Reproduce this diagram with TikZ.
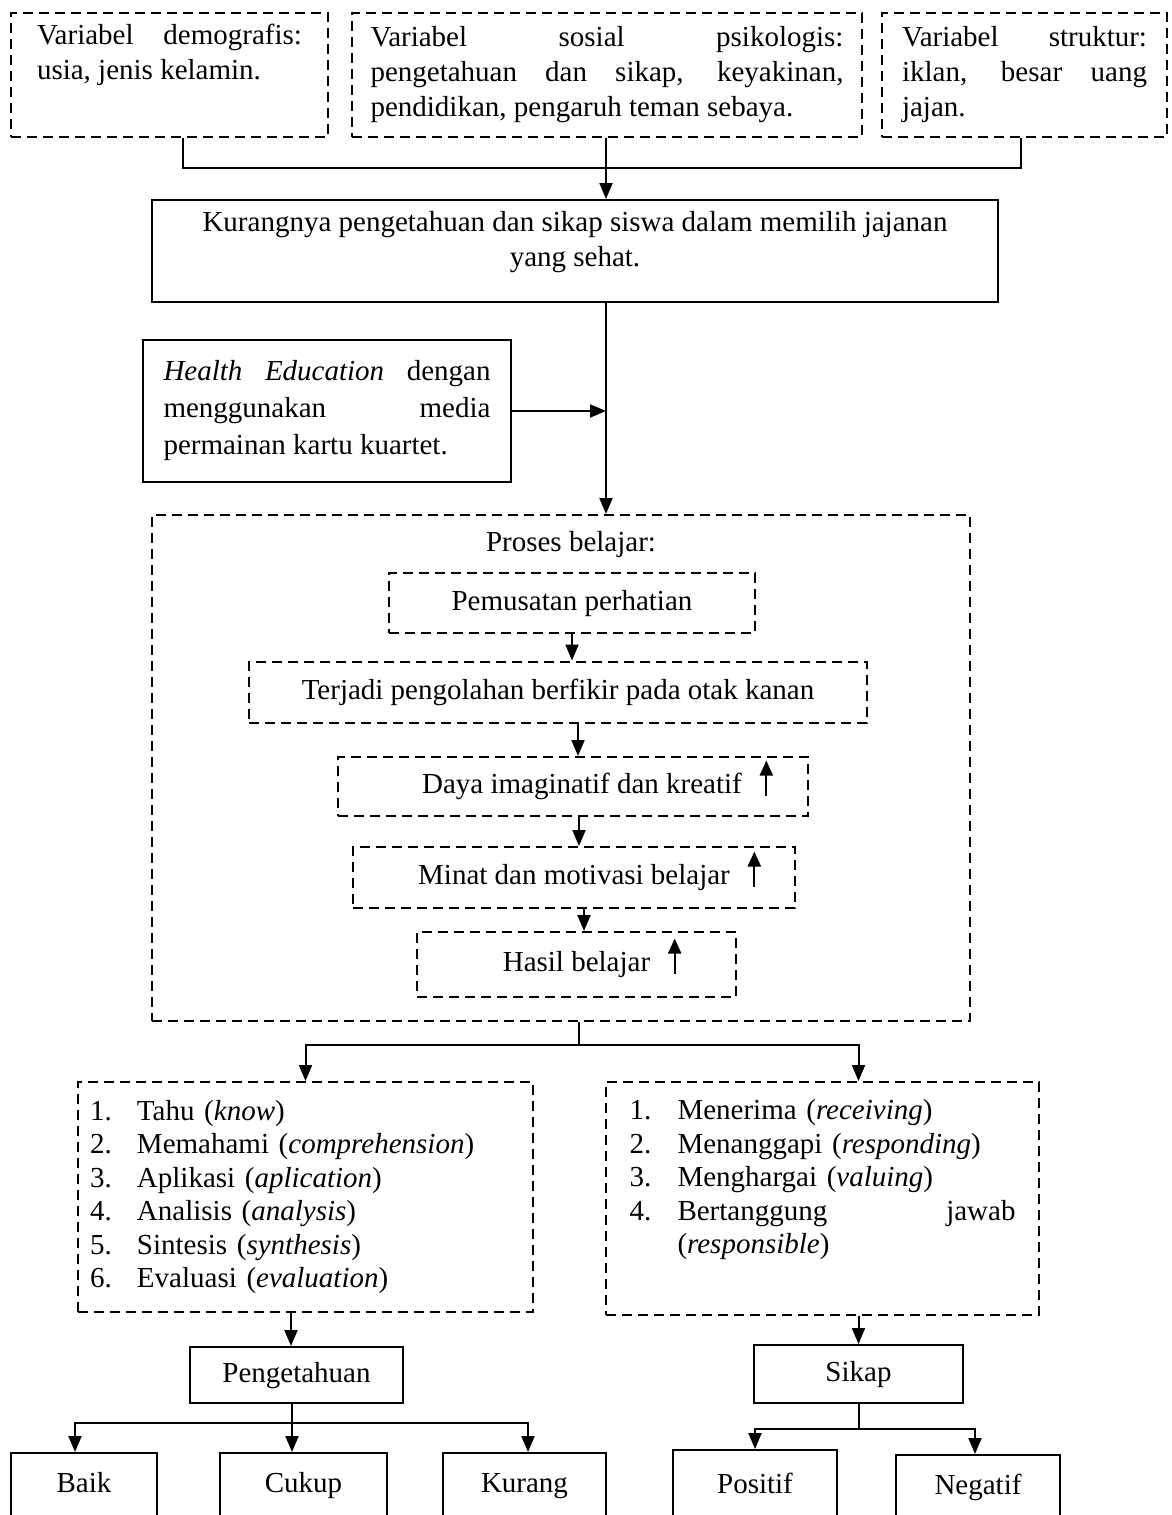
\documentclass[tikz,border=0pt]{standalone}
\usepackage{fontspec}
\setmainfont{Liberation Serif}
\usetikzlibrary{arrows.meta}
\setlength{\parindent}{0pt}

\newcommand{\upmark}{\rlap{\hspace{18pt}\tikz[baseline=0pt,x=1pt,y=1pt]\draw[solid,line width=2pt,-{Triangle[length=15pt,width=13pt]}] (0,-2) -- (0,33);}}

\begin{document}
\begin{tikzpicture}[x=1pt,y=-1pt,
    font=\fontsize{29}{35}\selectfont,
    thk/.style={line width=2pt},
    dbox/.style={draw,thk,dash pattern=on 10pt off 6pt,inner sep=0pt},
    sbox/.style={draw,thk,inner sep=0pt},
    oneline/.style={text height=20pt,text depth=6pt},
    arr/.style={thk,-{Triangle[length=16pt,width=13pt]}}]
  \useasboundingbox (0,0) rectangle (1171,1515);

  % variabel
  \node[dbox, minimum width=317pt, minimum height=124pt, text width=265pt, align=justify] (demo) at (169.5,75) {Variabel demografis:\linebreak usia, jenis kelamin.\\ \strut};
  \node[dbox, minimum width=510pt, minimum height=124pt, text width=473pt, align=justify] (sospsi) at (607,75) {Variabel sosial psikologis:\linebreak pengetahuan dan sikap, keyakinan,\linebreak pendidikan, pengaruh teman sebaya.};
  \node[dbox, minimum width=285pt, minimum height=124pt, text width=245pt, align=justify] (struk) at (1024.5,75) {Variabel struktur:\linebreak iklan, besar uang\linebreak jajan.};

  \node[sbox, minimum width=846pt, minimum height=102pt] (kurang) at (575,251) {};
  \node[align=center] (kurangtxt) at ([yshift=9pt]kurang.center) {Kurangnya pengetahuan dan sikap siswa dalam memilih jajanan\\ yang sehat.};
  \node[sbox, minimum width=368pt, minimum height=142pt, text width=327pt, align=justify, font=\fontsize{29}{37}\selectfont] (health) at (327,411) {\textit{Health Education} dengan\linebreak menggunakan media\linebreak permainan kartu kuartet.};
  \coordinate (axis) at (606,0);

  % proses belajar
  \node[dbox, minimum width=818pt, minimum height=506pt] (proses) at (561,768) {};
  \node[oneline] (plabel) at (571,544) {Proses belajar:};
  \node[dbox, oneline, minimum width=366pt, minimum height=60pt] (p1) at (572,603) {Pemusatan perhatian};
  \node[dbox, oneline, minimum width=618pt, minimum height=61pt] (p2) at (558,692) {Terjadi pengolahan berfikir pada otak kanan};
  \node[dbox, oneline, minimum width=470pt, minimum height=59pt] (p3) at (573,786.5) {\hspace*{18pt}Daya imaginatif dan kreatif\upmark};
  \node[dbox, oneline, minimum width=442pt, minimum height=61pt] (p4) at (574,877.5) {Minat dan motivasi belajar\upmark};
  \node[dbox, oneline, minimum width=319pt, minimum height=65pt] (p5) at (576.5,964.5) {Hasil belajar\upmark};

  % ranah
  \node[dbox, minimum width=455pt, minimum height=230pt, text width=431pt, align=left, font=\fontsize{29}{33.5}\selectfont] (tahu) at (305.5,1197) {\makebox[47pt][l]{1.}Tahu (\textit{know})\\ \makebox[47pt][l]{2.}Memahami (\textit{comprehension})\\ \makebox[47pt][l]{3.}Aplikasi (\textit{aplication})\\ \makebox[47pt][l]{4.}Analisis (\textit{analysis})\\ \makebox[47pt][l]{5.}Sintesis (\textit{synthesis})\\ \makebox[47pt][l]{6.}Evaluasi (\textit{evaluation})};
  \node[dbox, minimum width=433pt, minimum height=233pt, text width=386pt, align=left, font=\fontsize{29}{33.5}\selectfont] (terima) at (822.5,1198.5) {\makebox[48pt][l]{1.}Menerima (\textit{receiving})\\ \makebox[48pt][l]{2.}Menanggapi (\textit{responding})\\ \makebox[48pt][l]{3.}Menghargai (\textit{valuing})\\ \makebox[48pt][l]{4.}Bertanggung\hfill jawab\\ \hspace*{48pt}(\textit{responsible})\\ \strut};

  \node[sbox, oneline, minimum width=213pt, minimum height=56pt] (peng) at (296.5,1375) {Pengetahuan};
  \node[sbox, oneline, minimum width=209pt, minimum height=58pt] (sikap) at (858.5,1374) {Sikap};

  \node[sbox, oneline, minimum width=146pt, minimum height=64pt] (baik) at (84,1485) {Baik};
  \node[sbox, oneline, minimum width=167pt, minimum height=64pt] (cukup) at (303.5,1485) {Cukup};
  \node[sbox, oneline, minimum width=163pt, minimum height=64pt] (krg) at (524.5,1485) {Kurang};
  \node[sbox, oneline, text depth=10pt, minimum width=164pt, minimum height=76pt] (pos) at (755,1488) {Positif};
  \node[sbox, oneline, minimum width=164pt, minimum height=64pt] (neg) at (978,1487) {Negatif};

  % panah
  \draw[thk] ([xshift=13.5pt]demo.south) -- ++(0,30) -| ([xshift=-3.5pt]struk.south);
  \draw[arr] (sospsi.south -| axis) -- (kurang.north -| axis);
  \draw[arr] (kurang.south -| axis) -- (proses.north -| axis);
  \draw[arr] (health.east) -- (health.east -| axis);

  \draw[arr] (p1.south) -- (p1.south |- p2.north);
  \draw[arr] (p2.south -| 578,0) -- (p3.north -| 578,0);
  \draw[arr] (p3.south -| 579,0) -- (p4.north -| 579,0);
  \draw[arr] (p4.south -| 584,0) -- (p5.north -| 584,0);

  \coordinate (split) at (579,1045);
  \draw[thk] (proses.south -| split) -- (split);
  \draw[arr] (split) -| (tahu.north);
  \draw[arr] (split) -| (terima.north -| sikap.north);

  \draw[arr] (tahu.south -| 291,0) -- (peng.north -| 291,0);
  \draw[arr] (terima.south -| sikap.north) -- (sikap.north);

  \draw[thk] (peng.south -| 292,0) -- ++(0,19) coordinate (pj);
  \draw[arr] (pj) -| (baik.north -| 75,0);
  \draw[arr] (pj) -- (pj |- cukup.north);
  \draw[arr] (pj) -| (krg.north -| 528,0);

  \draw[thk] (sikap.south) -- ++(0,25) coordinate (sj);
  \draw[arr] (sj) -| (pos.north);
  \draw[arr] (sj) -| (neg.north -| 975,0);
\end{tikzpicture}
\end{document}
